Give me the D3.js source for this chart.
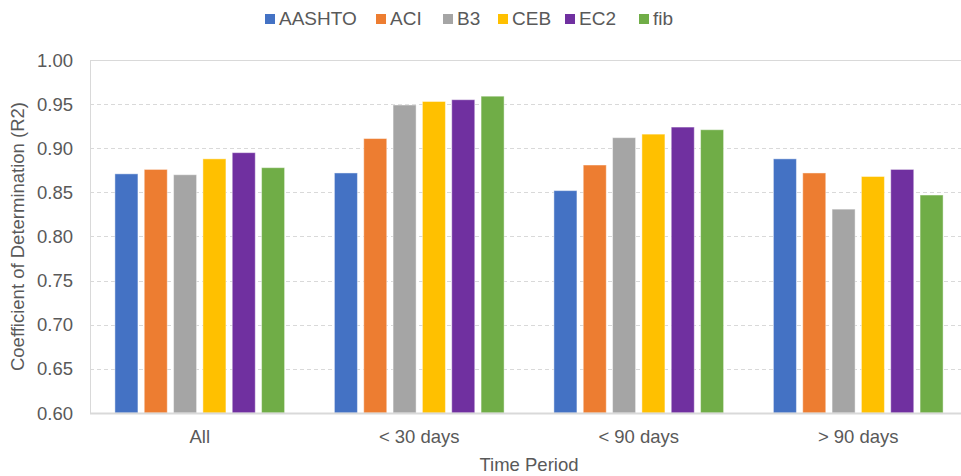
<!DOCTYPE html>
<html>
<head>
<meta charset="utf-8">
<script src="https://cdn.jsdelivr.net/npm/d3@7"></script>
<style>
	body { margin: 0; background: #fff; }
	text { font-family: "Liberation Sans", Arial, sans-serif; fill: #595959; }
</style>
</head>
<body>
<div id="chart"></div>
<script>
// chart data
var periods = ["All", "< 30 days", "< 90 days", "> 90 days"];
var models = ["AASHTO", "ACI", "B3", "CEB", "EC2", "fib"];
var colors = ["#4472C4", "#ED7D31", "#A5A5A5", "#FFC000", "#7030A0", "#70AD47"];
var AASHTO = [0.871, 0.872, 0.852, 0.888];
var ACI    = [0.876, 0.911, 0.881, 0.872];
var B3     = [0.870, 0.949, 0.912, 0.831];
var CEB    = [0.888, 0.953, 0.916, 0.868];
var EC2    = [0.895, 0.955, 0.924, 0.876];
var fib    = [0.878, 0.959, 0.921, 0.847];
var yTicks = [0.60, 0.65, 0.70, 0.75, 0.80, 0.85, 0.90, 0.95, 1.00];

var series = [AASHTO, ACI, B3, CEB, EC2, fib];

var w = 961, h = 476;
var plotL = 90, plotR = 968, plotT = 60, plotB = 413;

var svg = d3.select("#chart")
			.append("svg")
			.attr("width", w)
			.attr("height", h);

var y = d3.scaleLinear()
		  .domain([0.6, 1.0])
		  .range([plotB, plotT]);

var x0 = d3.scaleBand()
		   .domain(periods)
		   .range([plotL, plotR])
		   .padding(0);

var groupW = 176;
var x1 = d3.scaleBand()
		   .domain(models)
		   .range([-groupW / 2, groupW / 2])
		   .paddingInner(0.215)
		   .paddingOuter(0.1075);

// grid lines
svg.append("g")
	.selectAll("line")
	.data(yTicks.filter(d => d > 0.6 && d < 1.0))
	.enter()
	.append("line")
	.attr("x1", plotL)
	.attr("x2", w)
	.attr("y1", d => Math.round(y(d)) + 0.5)
	.attr("y2", d => Math.round(y(d)) + 0.5)
	.attr("stroke", "#d9d9d9")
	.attr("stroke-width", 1)
	.attr("stroke-dasharray", "4,3");

// plot frame (top and left)
svg.append("line")
	.attr("x1", plotL).attr("x2", w)
	.attr("y1", y(1.0) + 0.5).attr("y2", y(1.0) + 0.5)
	.attr("stroke", "#d9d9d9");
svg.append("line")
	.attr("x1", plotL + 0.5).attr("x2", plotL + 0.5)
	.attr("y1", y(1.0)).attr("y2", plotB)
	.attr("stroke", "#d9d9d9");

// bars
var groups = svg.append("g")
	.selectAll("g")
	.data(periods)
	.enter()
	.append("g")
	.attr("transform", d => "translate(" + (x0(d) + x0.bandwidth() / 2) + ",0)");

groups.selectAll("rect")
	.data((p, i) => models.map((m, j) => ({model: m, color: colors[j], value: series[j][i]})))
	.enter()
	.append("rect")
	.attr("x", d => x1(d.model))
	.attr("width", x1.bandwidth())
	.attr("y", d => y(d.value))
	.attr("height", d => plotB - y(d.value))
	.attr("fill", d => d.color)
	.attr("stroke", "#ffffff")
	.attr("stroke-opacity", 0.45)
	.attr("stroke-width", 1);

// x axis line
svg.append("line")
	.attr("x1", plotL).attr("x2", w)
	.attr("y1", plotB + 0.5).attr("y2", plotB + 0.5)
	.attr("stroke", "#d9d9d9")
	.attr("stroke-width", 2);

// y tick labels
svg.append("g")
	.selectAll("text")
	.data(yTicks)
	.enter()
	.append("text")
	.attr("x", 73)
	.attr("y", d => y(d) + 6.5)
	.attr("text-anchor", "end")
	.attr("font-size", 18.5)
	.text(d => d3.format(".2f")(d));

// x tick labels
svg.append("g")
	.selectAll("text")
	.data(periods)
	.enter()
	.append("text")
	.attr("x", d => x0(d) + x0.bandwidth() / 2)
	.attr("y", 443)
	.attr("text-anchor", "middle")
	.attr("font-size", 18.5)
	.text(d => d);

// axis titles
svg.append("text")
	.attr("x", 529)
	.attr("y", 471)
	.attr("text-anchor", "middle")
	.attr("font-size", 18.5)
	.text("Time Period");

svg.append("text")
	.attr("transform", "translate(24," + ((plotT + plotB) / 2) + ") rotate(-90)")
	.attr("text-anchor", "middle")
	.attr("font-size", 18.5)
	.text("Coefficient of Determination (R2)");

// legend (item x positions as in the original layout)
var legendX = [265, 376, 443, 498, 565, 639];
var legend = svg.append("g")
	.selectAll("g")
	.data(models)
	.enter()
	.append("g")
	.attr("transform", (d, i) => "translate(" + legendX[i] + ",0)");

legend.append("rect")
	.attr("x", 0)
	.attr("y", 14)
	.attr("width", 10)
	.attr("height", 10)
	.attr("fill", (d, i) => colors[i]);

legend.append("text")
	.attr("x", 14)
	.attr("y", 25)
	.attr("font-size", 19)
	.text(d => d);
</script>
</body>
</html>
